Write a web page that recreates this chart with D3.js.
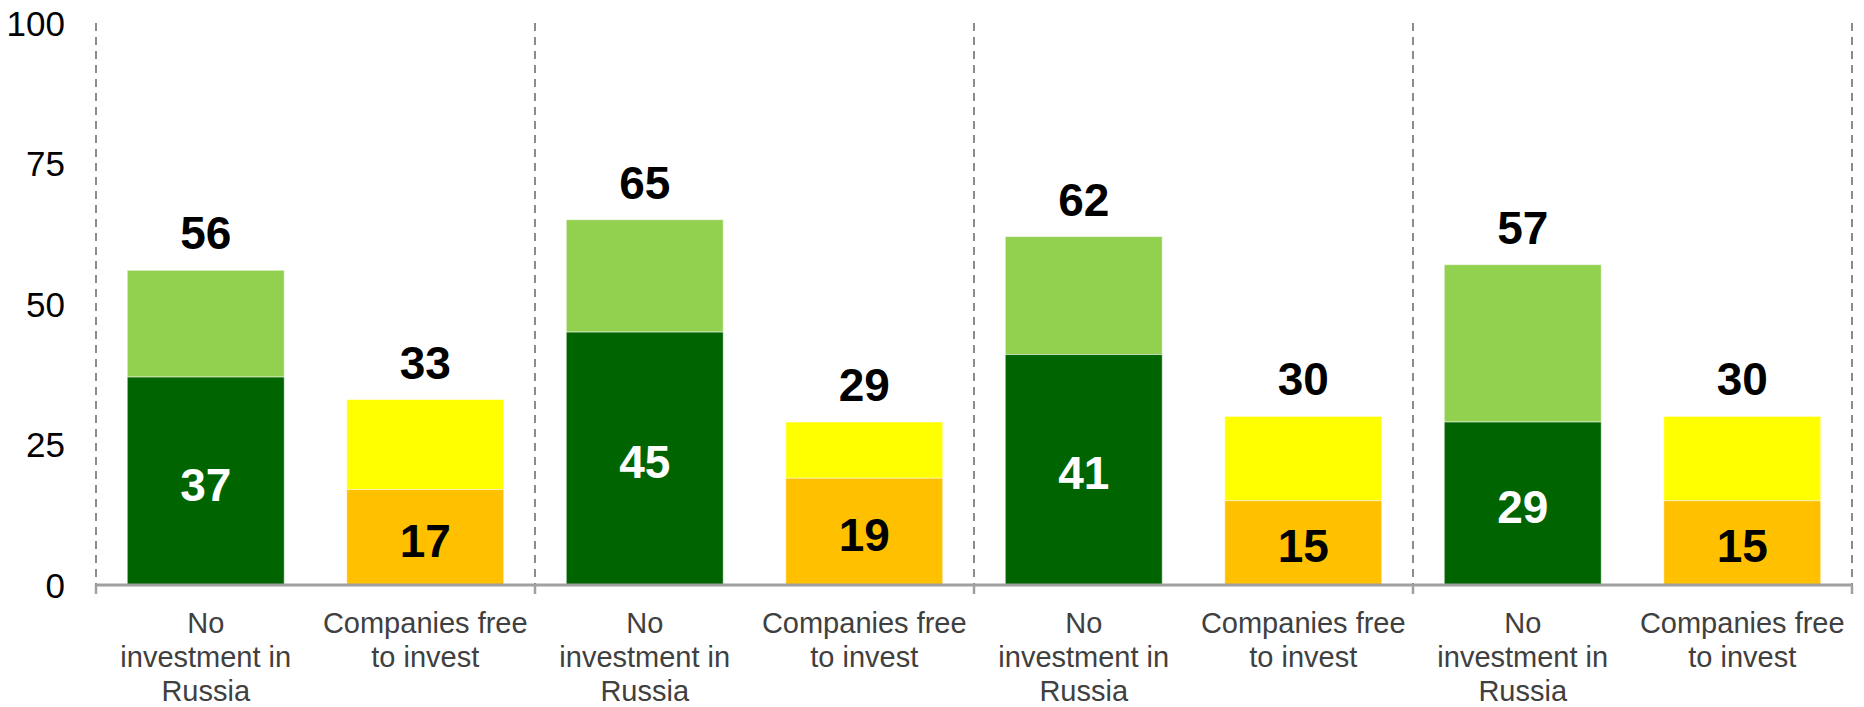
<!DOCTYPE html>
<html>
<head>
<meta charset="utf-8">
<script src="https://cdn.jsdelivr.net/npm/d3@7"></script>
<style>
  html, body { margin: 0; padding: 0; background: #ffffff; }
  svg { display: block; font-family: "Liberation Sans", Arial, sans-serif; }
</style>
</head>
<body>
<svg id="chart" width="1864" height="707"></svg>
<script>
// Survey results: share of respondents per group and option
const categories = [
  "No investment in Russia", "Companies free to invest",
  "No investment in Russia", "Companies free to invest",
  "No investment in Russia", "Companies free to invest",
  "No investment in Russia", "Companies free to invest"
];
const categoryLines = [
  ["No", "investment in", "Russia"], ["Companies free", "to invest"],
  ["No", "investment in", "Russia"], ["Companies free", "to invest"],
  ["No", "investment in", "Russia"], ["Companies free", "to invest"],
  ["No", "investment in", "Russia"], ["Companies free", "to invest"]
];
// lower (strong) segment and total stack height for each bar
const baseValues  = [37, 17, 45, 19, 41, 15, 29, 15];
const totalValues = [56, 33, 65, 29, 62, 30, 57, 30];
const barKind     = ["no", "free", "no", "free", "no", "free", "no", "free"];
const yTicks = [0, 25, 50, 75, 100];

const palette = {
  no:   { base: "#006400", top: "#92D050", baseText: "#ffffff" },
  free: { base: "#FFC000", top: "#FFFF00", baseText: "#000000" }
};

const svg = d3.select("#chart");
const plotLeft = 96, plotRight = 1852, plotTop = 23, plotBottom = 585;

const x = d3.scaleBand()
  .domain(d3.range(categories.length))
  .range([plotLeft, plotRight])
  .paddingInner(0.285)
  .paddingOuter(0.1425);

const y = d3.scaleLinear().domain([0, 100]).range([plotBottom, plotTop]);

// y tick labels (no axis line)
const yAxis = d3.axisLeft(y).tickValues(yTicks).tickSize(0).tickPadding(0);
const yg = svg.append("g").attr("transform", `translate(${plotLeft - 31},0)`).call(yAxis);
yg.select(".domain").remove();
yg.selectAll("text")
  .attr("font-size", 35)
  .attr("font-family", "Liberation Sans, Arial, sans-serif")
  .attr("fill", "#000000")
  .attr("dy", "0.35em");

// dashed group separators
const sepCount = categories.length / 2;
const separators = d3.range(sepCount + 1).map(i =>
  i === sepCount ? plotRight : x(i * 2) - x.step() * x.paddingOuter());
svg.append("g").selectAll("line").data(separators).join("line")
  .attr("x1", d => d).attr("x2", d => d)
  .attr("y1", plotTop).attr("y2", plotBottom + 9)
  .attr("stroke", "#8c8c8c")
  .attr("stroke-width", 2)
  .attr("stroke-dasharray", "8,6");

// stacked bars
const bars = svg.append("g");
categories.forEach((c, i) => {
  const col = palette[barKind[i]];
  bars.append("rect")
    .attr("x", x(i)).attr("width", x.bandwidth())
    .attr("y", y(totalValues[i])).attr("height", y(baseValues[i]) - y(totalValues[i]))
    .attr("fill", col.top)
    .attr("stroke", "#ffffff").attr("stroke-opacity", 0.5).attr("stroke-width", 1);
  bars.append("rect")
    .attr("x", x(i)).attr("width", x.bandwidth())
    .attr("y", y(baseValues[i])).attr("height", y(0) - y(baseValues[i]))
    .attr("fill", col.base)
    .attr("stroke", "#ffffff").attr("stroke-opacity", 0.5).attr("stroke-width", 1);
});

// baseline with ticks at separators
svg.append("line")
  .attr("x1", plotLeft).attr("x2", plotRight)
  .attr("y1", plotBottom).attr("y2", plotBottom)
  .attr("stroke", "#a0a0a0").attr("stroke-width", 3);
svg.append("g").selectAll("line").data(separators).join("line")
  .attr("x1", d => d).attr("x2", d => d)
  .attr("y1", plotBottom).attr("y2", plotBottom + 9)
  .attr("stroke", "#a0a0a0").attr("stroke-width", 2.5);

// value labels: totals above the stacks, lower segment inside
const labels = svg.append("g").attr("font-weight", "bold").attr("text-anchor", "middle");
categories.forEach((c, i) => {
  const cx = x(i) + x.bandwidth() / 2;
  labels.append("text")
    .attr("x", cx).attr("y", y(totalValues[i]) - 21)
    .attr("font-size", 46).attr("fill", "#000000")
    .text(totalValues[i]);
  labels.append("text")
    .attr("x", cx).attr("y", (y(baseValues[i]) + y(0)) / 2 + 3)
    .attr("dy", "0.36em")
    .attr("font-size", 46).attr("fill", palette[barKind[i]].baseText)
    .text(baseValues[i]);
});

// category labels
const cat = svg.append("g").attr("text-anchor", "middle").attr("fill", "#404040");
categoryLines.forEach((lines, i) => {
  const cx = x(i) + x.bandwidth() / 2;
  const t = cat.append("text")
    .attr("x", cx)
    .attr("y", plotBottom + 48)
    .attr("font-size", 29);
  lines.forEach((ln, k) => {
    t.append("tspan")
      .attr("x", cx)
      .attr("dy", k === 0 ? 0 : 34)
      .text(ln);
  });
});
</script>
</body>
</html>
